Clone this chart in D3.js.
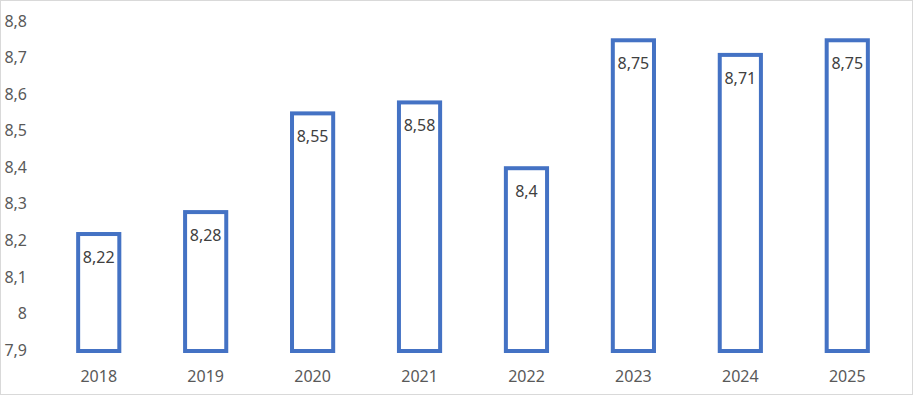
<!DOCTYPE html>
<html>
<head>
<meta charset="utf-8">
<script src="https://cdn.jsdelivr.net/npm/d3@7"></script>
<style>
  body { margin: 0; background: #fff; }
  svg { display: block; }
</style>
</head>
<body>
<div id="chart"></div>
<script>
const anyos = ['2018', '2019', '2020', '2021', '2022', '2023', '2024', '2025'];
const valores = [8.22, 8.28, 8.55, 8.58, 8.4, 8.75, 8.71, 8.75];
const ticksY = [7.9, 8.0, 8.1, 8.2, 8.3, 8.4, 8.5, 8.6, 8.7, 8.8];

const w = 914, h = 396;
const margen = { top: 22, right: 13, bottom: 45, left: 45 };

const fuente = "'Noto Sans', 'Open Sans', sans-serif";
const formato = (v) => String(+v.toFixed(2)).replace('.', ',');

const svg = d3.select('#chart')
  .append('svg')
  .attr('width', w)
  .attr('height', h);

// marco del grafico
svg.append('rect')
  .attr('x', 0.5).attr('y', 0.5)
  .attr('width', w - 2).attr('height', h - 2)
  .attr('fill', '#fff')
  .attr('stroke', '#d9d9d9');

const xScale = d3.scaleBand()
  .domain(anyos)
  .range([margen.left, w - margen.right])
  .paddingInner(0.615)
  .paddingOuter(0.31);

const yScale = d3.scaleLinear()
  .domain([7.9, 8.8])
  .range([h - margen.bottom, margen.top]);

// eje Y (solo etiquetas)
const yAxis = d3.axisLeft(yScale)
  .tickValues(ticksY)
  .tickSize(0)
  .tickPadding(0)
  .tickFormat(formato);

svg.append('g')
  .attr('transform', 'translate(27,-1)')
  .call(yAxis)
  .call(g => g.select('.domain').remove())
  .selectAll('text')
  .attr('fill', '#595959')
  .style('font-family', fuente)
  .style('font-size', '16px');

// eje X (solo etiquetas)
const xAxis = d3.axisBottom(xScale).tickSize(0).tickPadding(0);

svg.append('g')
  .attr('transform', 'translate(0,' + (h - 25) + ')')
  .call(xAxis)
  .call(g => g.select('.domain').remove())
  .selectAll('text')
  .attr('fill', '#595959')
  .style('font-family', fuente)
  .style('font-size', '16px');

// barras
svg.selectAll('rect.barra')
  .data(valores)
  .enter()
  .append('rect')
  .attr('class', 'barra')
  .attr('x', (d, i) => xScale(anyos[i]))
  .attr('y', (d) => yScale(d))
  .attr('width', xScale.bandwidth())
  .attr('height', (d) => yScale(7.9) - yScale(d))
  .attr('fill', '#fff')
  .attr('stroke', '#4472c4')
  .attr('stroke-width', 4);

// etiquetas de datos
svg.selectAll('text.etiqueta')
  .data(valores)
  .enter()
  .append('text')
  .attr('class', 'etiqueta')
  .attr('x', (d, i) => xScale(anyos[i]) + xScale.bandwidth() / 2)
  .attr('y', (d) => yScale(d) + 29)
  .attr('text-anchor', 'middle')
  .attr('fill', '#404040')
  .style('font-family', fuente)
  .style('font-size', '16px')
  .text(formato);
</script>
</body>
</html>
